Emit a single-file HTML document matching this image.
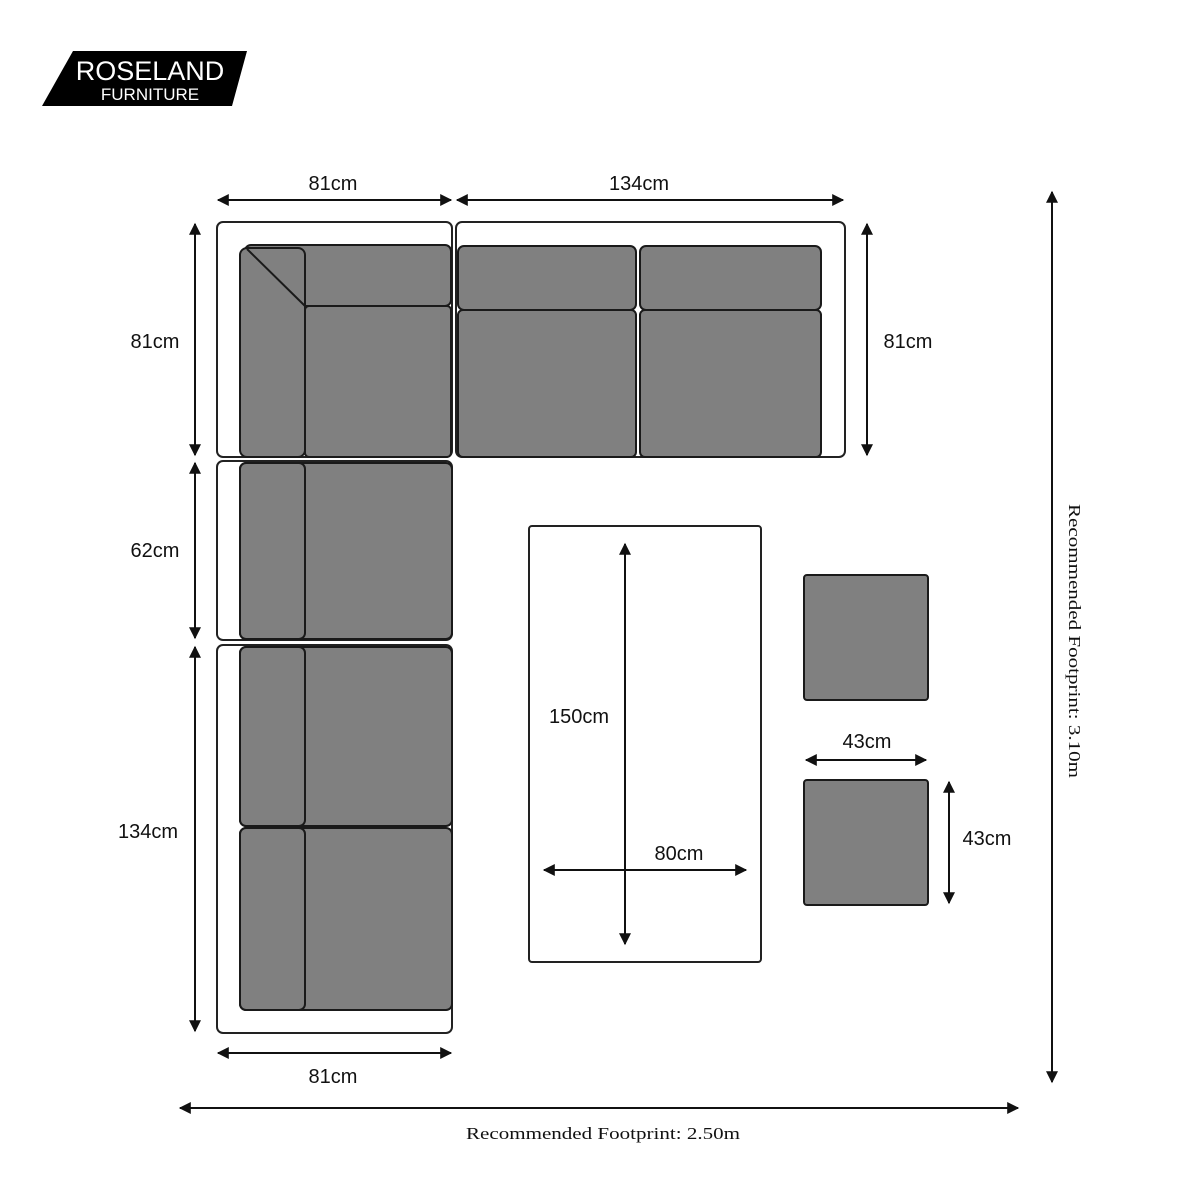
<!DOCTYPE html>
<html><head><style>body{margin:0;background:#fff}svg{display:block}</style></head><body>
<svg width="1200" height="1200" viewBox="0 0 1200 1200" xmlns="http://www.w3.org/2000/svg" font-family="Liberation Sans, sans-serif">
<defs>
<marker id="a" viewBox="0 0 10 10" refX="9" refY="5" markerWidth="6.5" markerHeight="6" orient="auto-start-reverse"><path d="M0,0 L10,5 L0,10 Z" fill="#111"/></marker>
</defs>
<rect width="1200" height="1200" fill="#fff"/>
<polygon points="42,106 73,51 247,51 232,106" fill="#000"/>
<text x="150" y="80" fill="#fff" font-size="27" text-anchor="middle">ROSELAND</text>
<text x="150" y="100" fill="#fff" font-size="17" text-anchor="middle">FURNITURE</text>
<g fill="none" stroke="#222" stroke-width="2">
<rect x="217" y="222" width="235" height="235" rx="6"/>
<rect x="456" y="222" width="389" height="235" rx="6"/>
<rect x="217" y="461" width="235" height="179" rx="6"/>
<rect x="217" y="645" width="235" height="388" rx="6"/>
<rect x="529" y="526" width="232" height="436" rx="3"/>
</g>
<g fill="#808080" stroke="#1a1a1a" stroke-width="2">
<rect x="245" y="245" width="206" height="61" rx="6"/>
<rect x="240" y="248" width="65" height="209" rx="7"/>
<rect x="305" y="306" width="146" height="151" rx="4"/>
<line x1="247" y1="249" x2="305" y2="306"/>
<rect x="458" y="310" width="178" height="147" rx="5"/>
<rect x="640" y="310" width="181" height="147" rx="5"/>
<rect x="458" y="246" width="178" height="64" rx="6"/>
<rect x="640" y="246" width="181" height="64" rx="6"/>
<rect x="240" y="463" width="212" height="176" rx="6"/>
<rect x="240" y="463" width="65" height="176" rx="6"/>
<rect x="240" y="647" width="212" height="179" rx="6"/>
<rect x="240" y="647" width="65" height="179" rx="6"/>
<rect x="240" y="828" width="212" height="182" rx="6"/>
<rect x="240" y="828" width="65" height="182" rx="6"/>
<rect x="804" y="575" width="124" height="125" rx="3"/>
<rect x="804" y="780" width="124" height="125" rx="3"/>
</g>
<g stroke="#111" stroke-width="2" marker-start="url(#a)" marker-end="url(#a)">
<line x1="218" y1="200" x2="451" y2="200"/>
<line x1="457" y1="200" x2="843" y2="200"/>
<line x1="195" y1="224" x2="195" y2="455"/>
<line x1="195" y1="463" x2="195" y2="638"/>
<line x1="195" y1="647" x2="195" y2="1031"/>
<line x1="867" y1="224" x2="867" y2="455"/>
<line x1="218" y1="1053" x2="451" y2="1053"/>
<line x1="625" y1="544" x2="625" y2="944"/>
<line x1="544" y1="870" x2="746" y2="870"/>
<line x1="806" y1="760" x2="926" y2="760"/>
<line x1="949" y1="782" x2="949" y2="903"/>
<line x1="1052" y1="192" x2="1052" y2="1082"/>
<line x1="180" y1="1108" x2="1018" y2="1108"/>
</g>
<g font-size="20" fill="#111" text-anchor="middle">
<text x="333" y="190">81cm</text>
<text x="639" y="190">134cm</text>
<text x="155" y="348">81cm</text>
<text x="908" y="348">81cm</text>
<text x="155" y="557">62cm</text>
<text x="148" y="838">134cm</text>
<text x="333" y="1083">81cm</text>
<text x="579" y="723">150cm</text>
<text x="679" y="860">80cm</text>
<text x="867" y="748">43cm</text>
<text x="987" y="845">43cm</text>
</g>
<text x="466" y="1139" font-family="Liberation Serif, serif" font-size="17" textLength="274" lengthAdjust="spacingAndGlyphs" fill="#111">Recommended Footprint: 2.50m</text>
<text transform="translate(1069,504) rotate(90)" font-family="Liberation Serif, serif" font-size="17" textLength="274" lengthAdjust="spacingAndGlyphs" fill="#111">Recommended Footprint: 3.10m</text>
</svg>
</body></html>
